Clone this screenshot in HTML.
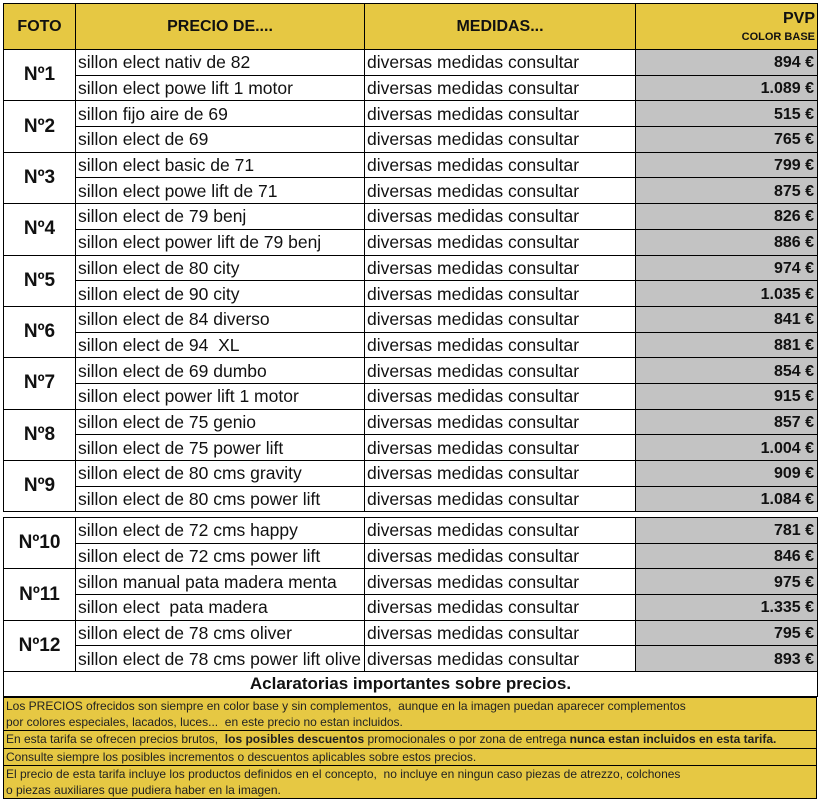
<!DOCTYPE html>
<html><head><meta charset="utf-8"><style>
body{margin:0;background:#fff;width:820px;height:799px;position:relative;overflow:hidden;font-family:"Liberation Sans",Arial,sans-serif}
table{border-collapse:collapse;position:absolute;left:3px;width:814px;table-layout:fixed}
td{border:1px solid #000;padding:0 2px;font-size:17.5px;white-space:nowrap;overflow:hidden;height:24.7px;line-height:20px;color:#111;vertical-align:middle}
td.f{text-align:center;font-weight:bold;font-size:19px;padding:0}
td.p{background:#c3c3c3;text-align:right;font-weight:bold;font-size:16px;padding:2px 3px 0 0;height:22.7px;line-height:20px}
tr.h td{background:#e6c843;height:43px;font-weight:bold;font-size:16px;text-align:center}
.notes{position:absolute;left:3px;top:697px;width:812px;border:1px solid #000;background:#e6c843;font-size:12px;color:#222}
.notes div{border-bottom:1px solid #000;padding-left:2px;line-height:16.2px;white-space:nowrap}
.notes div:last-child{border-bottom:none}
</style></head><body>
<table style="top:3px">
<colgroup><col style="width:72px"><col style="width:289px"><col style="width:271px"><col style="width:182px"></colgroup>
<tr class="h"><td>FOTO</td><td>PRECIO DE....</td><td>MEDIDAS...</td><td style="text-align:right;line-height:17px;padding-top:2px">PVP<br><span style="font-size:11px">COLOR BASE</span></td></tr>
<tr><td class="f" rowspan="2">Nº1</td><td>sillon elect nativ de 82</td><td>diversas medidas consultar</td><td class="p">894 €</td></tr>
<tr><td>sillon elect powe lift 1 motor</td><td>diversas medidas consultar</td><td class="p">1.089 €</td></tr>
<tr><td class="f" rowspan="2">Nº2</td><td>sillon fijo aire de 69</td><td>diversas medidas consultar</td><td class="p">515 €</td></tr>
<tr><td>sillon elect de 69</td><td>diversas medidas consultar</td><td class="p">765 €</td></tr>
<tr><td class="f" rowspan="2">Nº3</td><td>sillon elect basic de 71</td><td>diversas medidas consultar</td><td class="p">799 €</td></tr>
<tr><td>sillon elect powe lift de 71</td><td>diversas medidas consultar</td><td class="p">875 €</td></tr>
<tr><td class="f" rowspan="2">Nº4</td><td>sillon elect de 79 benj</td><td>diversas medidas consultar</td><td class="p">826 €</td></tr>
<tr><td>sillon elect power lift de 79 benj</td><td>diversas medidas consultar</td><td class="p">886 €</td></tr>
<tr><td class="f" rowspan="2">Nº5</td><td>sillon elect de 80 city</td><td>diversas medidas consultar</td><td class="p">974 €</td></tr>
<tr><td>sillon elect de 90 city</td><td>diversas medidas consultar</td><td class="p">1.035 €</td></tr>
<tr><td class="f" rowspan="2">Nº6</td><td>sillon elect de 84 diverso</td><td>diversas medidas consultar</td><td class="p">841 €</td></tr>
<tr><td>sillon elect de 94&nbsp; XL</td><td>diversas medidas consultar</td><td class="p">881 €</td></tr>
<tr><td class="f" rowspan="2">Nº7</td><td>sillon elect de 69 dumbo</td><td>diversas medidas consultar</td><td class="p">854 €</td></tr>
<tr><td>sillon elect power lift 1 motor</td><td>diversas medidas consultar</td><td class="p">915 €</td></tr>
<tr><td class="f" rowspan="2">Nº8</td><td>sillon elect de 75 genio</td><td>diversas medidas consultar</td><td class="p">857 €</td></tr>
<tr><td>sillon elect de 75 power lift</td><td>diversas medidas consultar</td><td class="p">1.004 €</td></tr>
<tr><td class="f" rowspan="2">Nº9</td><td>sillon elect de 80 cms gravity</td><td>diversas medidas consultar</td><td class="p">909 €</td></tr>
<tr><td>sillon elect de 80 cms power lift</td><td>diversas medidas consultar</td><td class="p">1.084 €</td></tr>
</table>
<table style="top:517px">
<colgroup><col style="width:72px"><col style="width:289px"><col style="width:271px"><col style="width:182px"></colgroup>
<tr><td class="f" rowspan="2">Nº10</td><td>sillon elect de 72 cms happy</td><td>diversas medidas consultar</td><td class="p">781 €</td></tr>
<tr><td>sillon elect de 72 cms power lift</td><td>diversas medidas consultar</td><td class="p">846 €</td></tr>
<tr><td class="f" rowspan="2">Nº11</td><td>sillon manual pata madera menta</td><td>diversas medidas consultar</td><td class="p">975 €</td></tr>
<tr><td>sillon elect&nbsp; pata madera</td><td>diversas medidas consultar</td><td class="p">1.335 €</td></tr>
<tr><td class="f" rowspan="2">Nº12</td><td>sillon elect de 78 cms oliver</td><td>diversas medidas consultar</td><td class="p">795 €</td></tr>
<tr><td style="padding:0 0 0 2px">sillon elect de 78 cms power lift olive</td><td>diversas medidas consultar</td><td class="p">893 €</td></tr>
<tr><td colspan="4" style="text-align:center;font-weight:bold;font-size:17px;height:24px">Aclaratorias importantes sobre precios.</td></tr>
</table>
<div class="notes">
<div>Los PRECIOS ofrecidos son siempre en color base y sin complementos,&nbsp; aunque en la imagen puedan aparecer complementos<br>por colores especiales, lacados, luces...&nbsp; en este precio no estan incluidos.</div>
<div>En esta tarifa se ofrecen precios brutos,&nbsp; <b>los posibles descuentos</b> promocionales o por zona de entrega <b>nunca estan incluidos en esta tarifa.</b></div>
<div>Consulte siempre los posibles incrementos o descuentos aplicables sobre estos precios.</div>
<div>El precio de esta tarifa incluye los productos definidos en el concepto,&nbsp; no incluye en ningun caso piezas de atrezzo, colchones<br>o piezas auxiliares que pudiera haber en la imagen.</div>
</div>
</body></html>
